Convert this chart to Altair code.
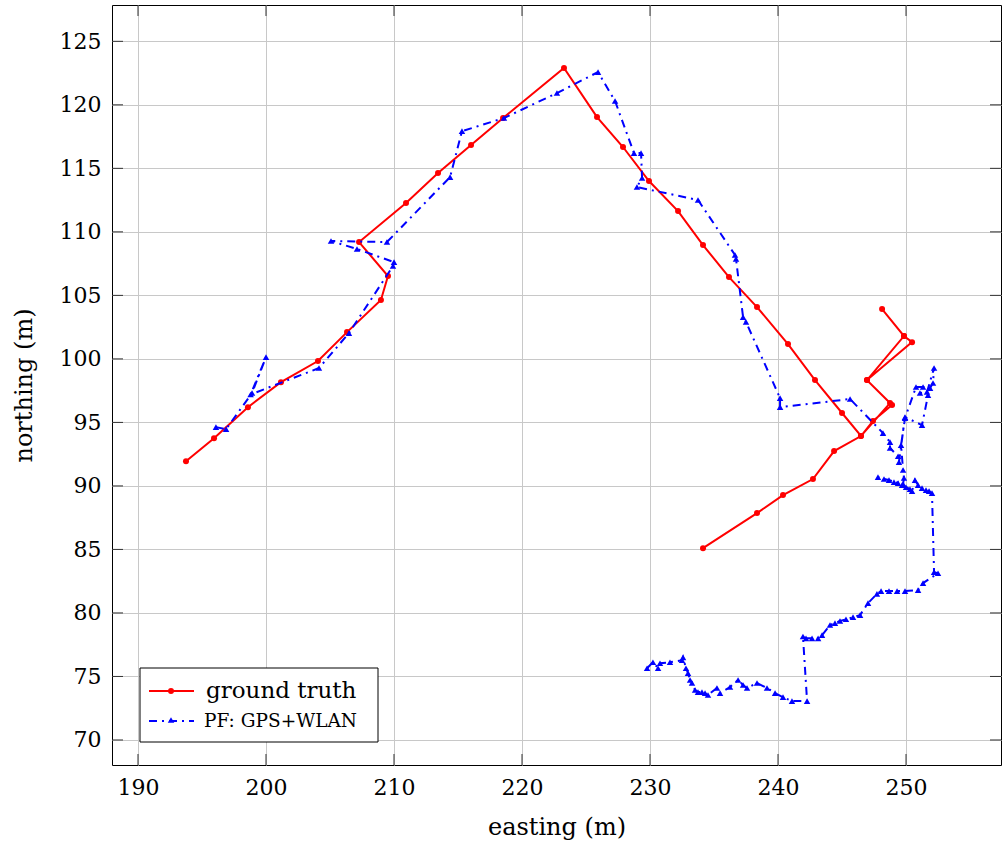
import altair as alt
import pandas as pd

# ground truth (easting, northing)
gt_x = [193.75, 195.94, 198.59, 201.17, 204.06, 206.33, 208.98, 209.53, 207.27, 210.94,
        213.44, 216.02, 218.52, 223.28, 225.86, 227.89, 229.92, 232.19, 234.14, 236.17,
        238.36, 240.78, 242.89, 245.0, 246.48, 247.42, 248.91, 246.95, 250.47, 249.84,
        248.13, 249.84, 246.95, 248.75, 246.48, 244.38, 242.73, 240.39, 238.36, 234.14]
gt_y = [91.95, 93.76, 96.2, 98.17, 99.83, 102.11, 104.63, 106.52, 109.2, 112.27,
        114.63, 116.83, 118.96, 122.9, 119.04, 116.68, 114.0, 111.64, 108.96, 106.44,
        104.08, 101.17, 98.33, 95.74, 93.93, 95.11, 96.37, 98.33, 101.32, 101.8,
        103.92, 101.8, 98.33, 96.52, 93.93, 92.74, 90.54, 89.28, 87.86, 85.1]

# particle filter GPS+WLAN
pf_x = [196.09, 196.88, 198.91, 200.0, 198.8, 204.14, 206.48, 209.92, 210.0, 207.11,
        205.08, 209.45, 214.38, 215.31, 218.59, 222.73, 225.94, 227.27, 228.75, 229.3,
        229.38, 228.98, 233.75, 236.64, 236.72, 237.27, 237.5, 240.16, 240.16, 245.63,
        248.2, 248.75, 248.75, 249.38, 249.45, 249.92, 251.25, 251.72, 251.88, 252.11,
        252.19, 251.64, 251.09, 251.33, 250.78, 249.92, 249.61, 249.77, 249.84, 249.77,
        247.81, 248.28, 248.67, 249.06, 249.38, 249.69, 250.0, 250.31, 250.47, 250.7,
        250.94, 251.25, 251.56, 251.8, 252.03, 252.19, 252.5, 251.33, 250.94, 249.92,
        249.3, 248.67, 248.05, 247.73, 247.03, 246.41, 245.86, 245.31, 244.84, 244.45,
        244.06, 243.44, 243.13, 242.66, 242.19, 241.95, 242.27, 241.09, 240.39, 239.77,
        239.14, 238.36, 237.58, 237.27, 236.88, 236.25, 235.47, 235.23, 234.53, 234.3,
        234.06, 233.75, 233.52, 233.28, 233.13, 232.97, 232.81, 232.58, 232.5, 231.56,
        230.78, 230.63, 230.23, 229.77]
pf_y = [94.63, 94.47, 97.31, 100.14, 97.2, 99.28, 102.03, 107.31, 107.62, 108.65,
        109.28, 109.2, 114.31, 117.93, 118.96, 120.93, 122.58, 120.3, 116.2, 116.2,
        114.24, 113.53, 112.51, 108.18, 107.87, 103.29, 102.9, 96.91, 96.2, 96.84,
        94.16, 93.45, 92.98, 92.34, 91.87, 95.42, 94.79, 97.15, 97.7, 98.1,
        99.28, 97.4, 97.31, 97.79, 97.79, 95.34, 93.21, 91.25, 90.62, 90.15,
        90.69, 90.54, 90.46, 90.3, 90.22, 90.06, 89.9, 89.75, 89.59, 90.46,
        90.06, 89.83, 89.67, 89.59, 89.43, 83.21, 83.13, 82.35, 81.8, 81.72,
        81.72, 81.72, 81.72, 81.5, 80.77, 79.83, 79.67, 79.5, 79.37, 79.2,
        79.05, 78.25, 78.0, 78.0, 78.0, 78.15, 73.06, 73.06, 73.37, 73.69,
        74.09, 74.48, 74.09, 74.33, 74.72, 74.17, 73.69, 74.09, 73.54, 73.69,
        73.77, 73.77, 73.93, 74.48, 74.72, 75.26, 75.65, 76.5, 76.28, 76.12,
        76.04, 75.65, 76.12, 75.65]

x_ticks = [190, 200, 210, 220, 230, 240, 250]
y_ticks = [70, 75, 80, 85, 90, 95, 100, 105, 110, 115, 120, 125]

W, H = 889, 760
FONT = "DejaVu Serif"
RED = "#ff0000"
BLUE = "#0000ff"

gt = pd.DataFrame({"x": gt_x, "y": gt_y, "i": range(len(gt_x))})
pf = pd.DataFrame({"x": pf_x, "y": pf_y, "i": range(len(pf_x))})

xs = alt.Scale(domain=[187.97, 257.42], nice=False, zero=False)
ys = alt.Scale(domain=[68.03, 127.86], nice=False, zero=False)

xaxis = alt.Axis(values=x_ticks, title="easting (m)", grid=True, gridColor="#c8c8c8",
                 ticks=False, domain=False, labelFont=FONT, labelFontSize=22,
                 labelColor="black", labelPadding=12, titleFont=FONT, titleFontSize=24,
                 titleFontWeight="normal", titleColor="black", titlePadding=17)
yaxis = alt.Axis(values=y_ticks, title="northing (m)", grid=True, gridColor="#c8c8c8",
                 ticks=False, domain=False, labelFont=FONT, labelFontSize=22,
                 labelColor="black", labelPadding=11, titleFont=FONT, titleFontSize=24,
                 titleFontWeight="normal", titleColor="black", titlePadding=23)

X = alt.X("x:Q", scale=xs, axis=xaxis)
Y = alt.Y("y:Q", scale=ys, axis=yaxis)

base_gt = alt.Chart(gt)
gt_line = base_gt.mark_line(color=RED, strokeWidth=2).encode(x=X, y=Y, order="i:Q")
gt_pts = base_gt.mark_circle(color=RED, size=36, opacity=1).encode(x=X, y=Y)

base_pf = alt.Chart(pf)
pf_line = base_pf.mark_line(color=BLUE, strokeWidth=2, strokeDash=[8, 5, 2, 5]).encode(
    x=X, y=Y, order="i:Q")
pf_pts = base_pf.mark_point(shape="triangle-up", filled=True, color=BLUE, size=42,
                            opacity=1).encode(x=X, y=Y)

# inward ticks on all four sides
xt = alt.Chart(pd.DataFrame({"x": x_ticks}))
yt = alt.Chart(pd.DataFrame({"y": y_ticks}))
tick_style = dict(color="#333333", strokeWidth=1)
xt_bot = xt.mark_rule(**tick_style).encode(x=X, y=alt.value(H), y2=alt.value(H - 11))
xt_top = xt.mark_rule(**tick_style).encode(x=X, y=alt.value(0), y2=alt.value(11))
yt_left = yt.mark_rule(**tick_style).encode(y=Y, x=alt.value(0), x2=alt.value(11))
yt_right = yt.mark_rule(**tick_style).encode(y=Y, x=alt.value(W), x2=alt.value(W - 11))

# legend box
one = alt.Chart(pd.DataFrame({"a": [0]}))
leg_box = one.mark_rect(fill="white", stroke="black", strokeWidth=1).encode(
    x=alt.value(28), x2=alt.value(266), y=alt.value(663), y2=alt.value(737))
leg_l1 = one.mark_rule(color=RED, strokeWidth=2).encode(
    x=alt.value(37), x2=alt.value(82), y=alt.value(686))
leg_p1 = one.mark_circle(color=RED, size=36, opacity=1).encode(
    x=alt.value(59), y=alt.value(686))
leg_t1 = one.mark_text(text="ground truth", font=FONT, fontSize=23, align="left",
                       baseline="alphabetic", color="black").encode(
    x=alt.value(94), y=alt.value(693))
leg_l2 = one.mark_rule(color=BLUE, strokeWidth=2, strokeDash=[8, 5, 2, 5]).encode(
    x=alt.value(37), x2=alt.value(82), y=alt.value(716))
leg_p2 = one.mark_point(shape="triangle-up", filled=True, color=BLUE, size=42, opacity=1).encode(
    x=alt.value(59), y=alt.value(715))
leg_t2 = one.mark_text(text="PF: GPS+WLAN", font=FONT, fontSize=18.5, align="left",
                       baseline="alphabetic", color="black").encode(
    x=alt.value(92), y=alt.value(722))

chart = alt.layer(
    gt_line, gt_pts, pf_line, pf_pts,
    xt_bot, xt_top, yt_left, yt_right,
    leg_box, leg_l1, leg_p1, leg_t1, leg_l2, leg_p2, leg_t2
).properties(
    width=W, height=H,
    autosize=alt.AutoSizeParams(type="none"),
    padding={"left": 112, "top": 5, "right": 1, "bottom": 80},
).configure(background="white").configure_view(stroke="black", strokeWidth=1)

chart.save("out.html", embed_options={"renderer": "svg", "actions": False})
